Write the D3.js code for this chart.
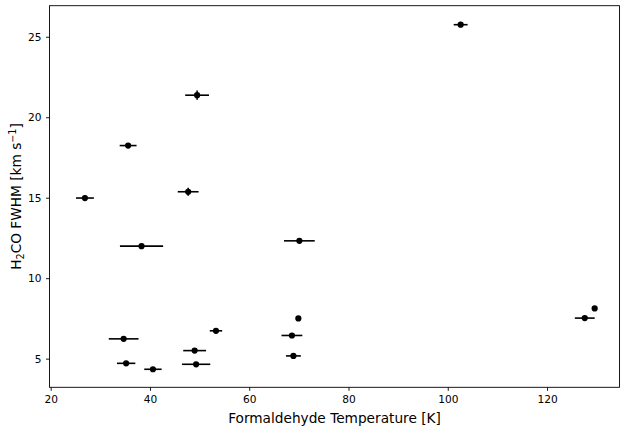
<!DOCTYPE html>
<html>
<head>
<meta charset="utf-8">
<script src="https://cdn.jsdelivr.net/npm/d3@7"></script>
<style>
  html, body { margin: 0; padding: 0; background: #fff; }
  svg { display: block; font-family: "DejaVu Sans", sans-serif; }
</style>
</head>
<body>
<svg id="chart" width="621" height="429"></svg>
<script>
// Formaldehyde kinetic temperature vs. H2CO line width, one point per source
const temperature    = [102.6, 49.5, 35.6, 26.9, 47.7, 38.3, 70.1, 69.9, 68.6, 68.9, 34.7, 35.2, 40.6, 49.0, 49.3, 53.3, 127.6, 129.6];
const temperatureErr = [1.4, 2.4, 1.7, 1.8, 2.1, 4.35, 3.1, 0.3, 2.1, 1.5, 3.0, 1.85, 1.75, 2.3, 2.85, 1.25, 2.0, 0.3];
const fwhm           = [25.75, 21.37, 18.24, 14.98, 15.37, 11.99, 12.32, 7.50, 6.44, 5.17, 6.23, 4.71, 4.34, 5.50, 4.65, 6.73, 7.52, 8.12];
const fwhmErr        = [0.08, 0.29, 0.08, 0.15, 0.25, 0.05, 0.05, 0.05, 0.05, 0.05, 0.05, 0.05, 0.05, 0.05, 0.05, 0.05, 0.05, 0.05];

const xTicks = [20, 40, 60, 80, 100, 120];
const yTicks = [5, 10, 15, 20, 25];

const xDomain = [19.76, 134.6];
const yDomain = [3.22, 26.93];

const plot = { left: 49.5, right: 619.5, top: 5.7, bottom: 387.3 };

const svg = d3.select("#chart");

const x = d3.scaleLinear().domain(xDomain).range([plot.left, plot.right]);
const y = d3.scaleLinear().domain(yDomain).range([plot.bottom, plot.top]);

const points = temperature.map((t, i) => ({
  t, tErr: temperatureErr[i], w: fwhm[i], wErr: fwhmErr[i]
}));

// axes
const xAxis = d3.axisBottom(x).tickValues(xTicks).tickSize(3.5).tickPadding(4.5).tickFormat(d3.format("d"));
const yAxis = d3.axisLeft(y).tickValues(yTicks).tickSize(3.5).tickPadding(4.5).tickFormat(d3.format("d"));

const gx = svg.append("g").attr("transform", `translate(0,${plot.bottom})`).call(xAxis);
const gy = svg.append("g").attr("transform", `translate(${plot.left},0)`).call(yAxis);

[gx, gy].forEach(g => {
  g.select(".domain").remove();
  g.selectAll(".tick line").attr("stroke", "#000").attr("stroke-width", 0.9);
  g.selectAll(".tick text")
    .attr("fill", "#000")
    .style("font-family", "'DejaVu Sans', sans-serif")
    .style("font-size", "10.6px");
});

// frame around the plotting area
svg.append("rect")
  .attr("x", plot.left).attr("y", plot.top)
  .attr("width", plot.right - plot.left).attr("height", plot.bottom - plot.top)
  .attr("fill", "none").attr("stroke", "#000").attr("stroke-width", 0.9);

// error bars and markers
const marks = svg.append("g");
marks.selectAll("line.xerr").data(points).join("line")
  .attr("class", "xerr")
  .attr("x1", d => x(d.t - d.tErr)).attr("x2", d => x(d.t + d.tErr))
  .attr("y1", d => y(d.w)).attr("y2", d => y(d.w))
  .attr("stroke", "#000").attr("stroke-width", 1.6);
marks.selectAll("line.yerr").data(points).join("line")
  .attr("class", "yerr")
  .attr("x1", d => x(d.t)).attr("x2", d => x(d.t))
  .attr("y1", d => y(d.w - d.wErr)).attr("y2", d => y(d.w + d.wErr))
  .attr("stroke", "#000").attr("stroke-width", 1.6);
marks.selectAll("circle").data(points).join("circle")
  .attr("cx", d => x(d.t)).attr("cy", d => y(d.w))
  .attr("r", 3.1).attr("fill", "#000");

// axis titles
svg.append("text")
  .attr("x", (plot.left + plot.right) / 2).attr("y", 422.5)
  .attr("text-anchor", "middle")
  .style("font-size", "13.7px")
  .text("Formaldehyde Temperature [K]");

const yl = svg.append("text")
  .attr("transform", `translate(21,${(plot.top + plot.bottom) / 2}) rotate(-90)`)
  .attr("text-anchor", "middle")
  .style("font-size", "13.7px");
yl.append("tspan").text("H");
yl.append("tspan").attr("dy", 3).style("font-size", "9.6px").text("2");
yl.append("tspan").attr("dy", -3).text("CO FWHM [km s");
yl.append("tspan").attr("dy", -5).style("font-size", "9.6px").text("\u22121");
yl.append("tspan").attr("dy", 5).text("]");
</script>
</body>
</html>
